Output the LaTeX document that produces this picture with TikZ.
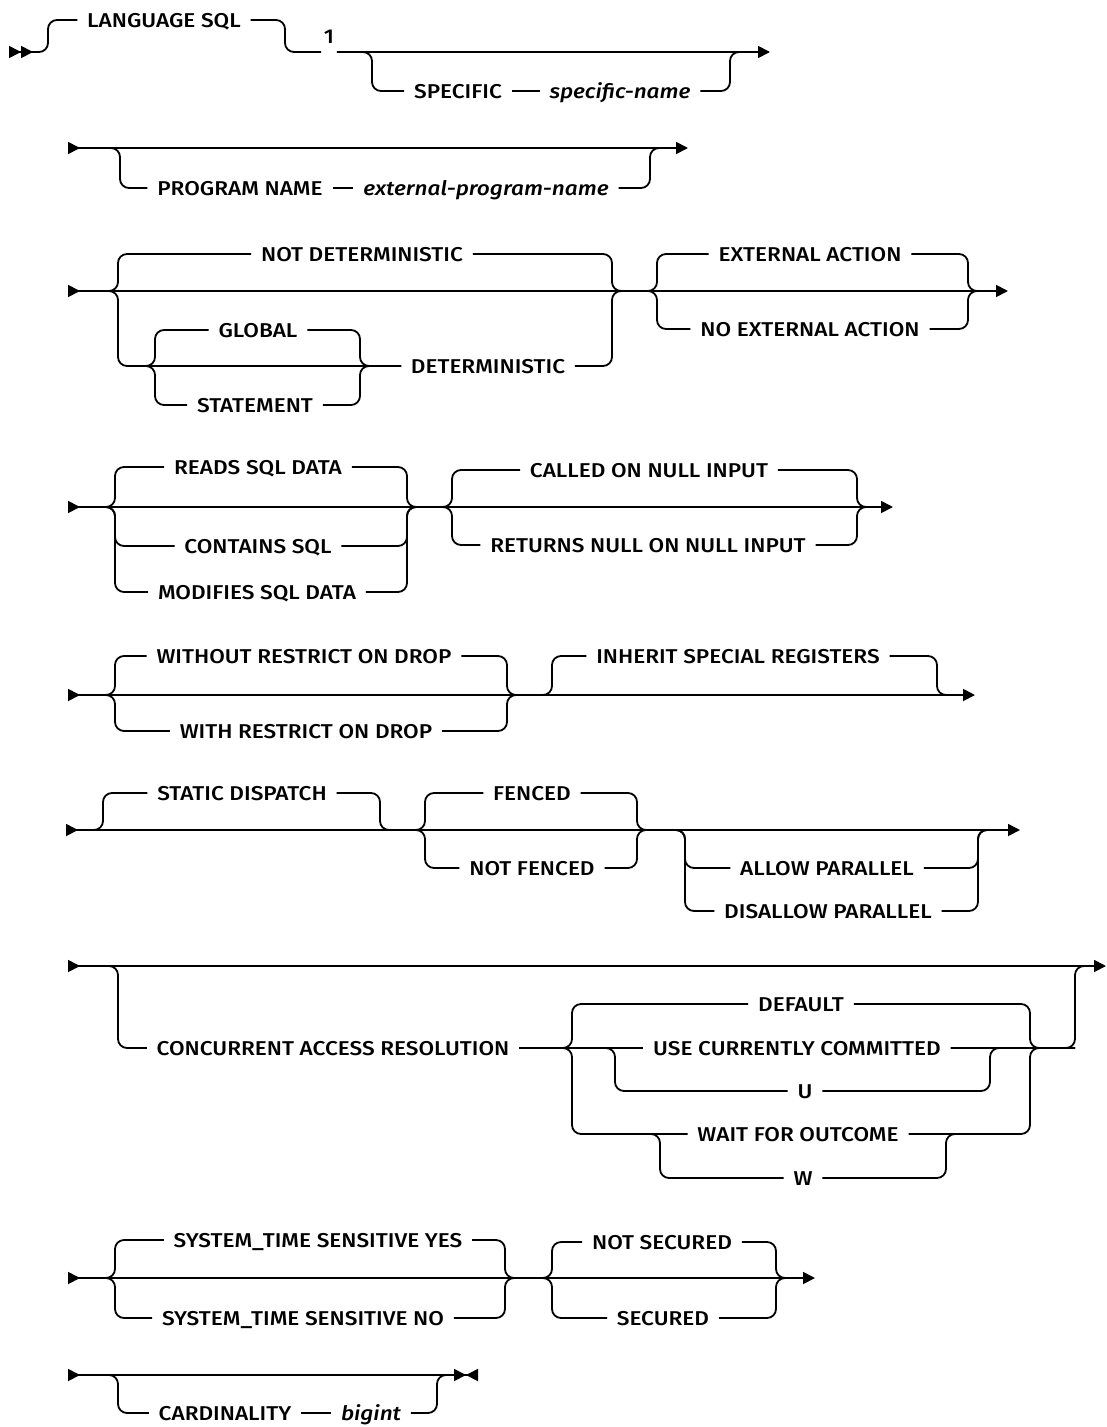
\documentclass[tikz,border=0pt]{standalone}
\usepackage{fontspec}
\setmainfont{Liberation Sans}
\newfontfamily\kwfam{Fira Sans Medium}[ItalicFont={Fira Sans Medium Italic}, FakeStretch=1.13]
\usetikzlibrary{arrows.meta}
\newcommand\kwfont{\kwfam\fontsize{20}{24}\selectfont}

\begin{document}
\begin{tikzpicture}[x=1pt, y=-1pt, line width=1.8pt,
  kw/.style={font=\kwfont, inner xsep=9pt, inner ysep=0pt, text height=14pt, text depth=0pt},
  var/.style={kw, font=\kwfont\itshape},
  rc/.style={rounded corners=9pt},
  mainline/.style={{Triangle[length=12pt,width=12pt,reversed]}-{Triangle[length=12pt,width=12pt]}},
  tail/.style={rc, shorten >=12pt}]

  \useasboundingbox (0,0) rectangle (1107,1427);

  % row 1
  \coordinate (b1) at (9,52);
  \coordinate (f1) at (48,52);
  \coordinate (j1) at (285,52);
  \coordinate (f1b) at (372,52);
  \coordinate (j1b) at (730,52);
  \coordinate (e1) at (770,52);
  \node[kw] (lang) at (164,20) {LANGUAGE SQL};
  \node[kw, inner xsep=2pt] (n1) at (329,36) {1};
  \node[kw] (spec) at (458,91) {SPECIFIC};
  \node[var] (specn) at (620,91) {specific-name};
  \draw[rc, {Triangle[length=12pt,width=12pt,reversed]Triangle[length=12pt,width=12pt,reversed]}-] (b1) -| (f1 |- lang) -- (lang.west);
  \draw[rc] (lang.east) -| (j1) -- (j1 -| n1.west);
  \draw[rc] (n1.east |- j1) -| (f1b |- spec) -- (spec.west);
  \draw (spec) -- (specn);
  \draw[tail] (specn.east) -| (j1b) -- (e1);
  \draw[-{Triangle[length=12pt,width=12pt]}] (n1.east |- j1) -- (e1);

  % row 2
  \coordinate (s2) at (68,148);
  \coordinate (f2) at (120,148);
  \coordinate (j2) at (650,148);
  \coordinate (e2) at (688,148);
  \node[kw] (prog) at (240,188) {PROGRAM NAME};
  \node[var] (progn) at (486,188) {external-program-name};
  \draw[rc] (s2) -| (f2 |- prog) -- (prog.west);
  \draw (prog) -- (progn);
  \draw[tail] (progn.east) -| (j2) -- (e2);
  \draw[mainline] (s2) -- (e2);

  % row 3
  \coordinate (s3) at (68,291);
  \coordinate (f3) at (118,291);
  \coordinate (f3a) at (136,366);
  \coordinate (f3b) at (155,366);
  \coordinate (j3b) at (360,366);
  \coordinate (j3) at (612,291);
  \coordinate (f3c) at (657,291);
  \coordinate (j3c) at (968,291);
  \coordinate (e3) at (1008,291);
  \node[kw] (notdet) at (362,254) {NOT DETERMINISTIC};
  \node[kw] (glob) at (258,330) {GLOBAL};
  \node[kw] (stmt) at (255,405) {STATEMENT};
  \node[kw] (det) at (488,366) {DETERMINISTIC};
  \node[kw] (ext) at (810,254) {EXTERNAL ACTION};
  \node[kw] (noext) at (810,329) {NO EXTERNAL ACTION};
  \draw[rc] (s3) -| (f3 |- notdet) -- (notdet.west);
  \draw[rc] (notdet.east) -| (j3) -- (f3c);
  \draw[rc] (s3) -| (f3 |- f3b) -- (det.west);
  \draw[rc] (f3a) -| (f3b |- glob) -- (glob.west);
  \draw[rc] (glob.east) -| (j3b) -- (det.west);
  \draw[rc] (f3a) -| (f3b |- stmt) -- (stmt.west);
  \draw[rc] (stmt.east) -| (j3b) -- (det.west);
  \draw[rc] (det.east) -| (j3) -- (f3c);
  \draw[rc] (j3) -| (f3c |- ext) -- (ext.west);
  \draw[tail] (ext.east) -| (j3c) -- (e3);
  \draw[rc] (j3) -| (f3c |- noext) -- (noext.west);
  \draw[tail] (noext.east) -| (j3c) -- (e3);
  \draw[mainline] (s3) -- (e3);

  % row 4
  \coordinate (s4) at (68,507);
  \coordinate (f4) at (115,507);
  \coordinate (j4) at (407,507);
  \coordinate (f4b) at (452,507);
  \coordinate (j4b) at (857,507);
  \coordinate (e4) at (893,507);
  \node[kw] (reads) at (258,467) {READS SQL DATA};
  \node[kw] (cont) at (258,546) {CONTAINS SQL};
  \node[kw] (mod) at (257,592) {MODIFIES SQL DATA};
  \node[kw] (called) at (649,470) {CALLED ON NULL INPUT};
  \node[kw] (retn) at (648,545) {RETURNS NULL ON NULL INPUT};
  \foreach \n in {reads,cont,mod}{
    \draw[rc] (s4) -| (f4 |- \n) -- (\n.west);
    \draw[rc] (\n.east) -| (j4) -- (f4b);
  }
  \foreach \n in {called,retn}{
    \draw[rc] (j4) -| (f4b |- \n) -- (\n.west);
    \draw[tail] (\n.east) -| (j4b) -- (e4);
  }
  \draw[mainline] (s4) -- (e4);

  % row 5
  \coordinate (s5) at (68,695);
  \coordinate (f5) at (115,695);
  \coordinate (j5) at (507,695);
  \coordinate (f5b) at (552,695);
  \coordinate (j5b) at (937,695);
  \coordinate (e5) at (975,695);
  \node[kw] (wout) at (304,656) {WITHOUT RESTRICT ON DROP};
  \node[kw] (with) at (306,731) {WITH RESTRICT ON DROP};
  \node[kw] (inh) at (738,656) {INHERIT SPECIAL REGISTERS};
  \foreach \n in {wout,with}{
    \draw[rc] (s5) -| (f5 |- \n) -- (\n.west);
    \draw[rc] (\n.east) -| (j5) -- (f5b);
  }
  \draw[rc] (j5) -| (f5b |- inh) -- (inh.west);
  \draw[tail] (inh.east) -| (j5b) -- (e5);
  \draw[mainline] (s5) -- (e5);

  % row 6
  \coordinate (s6) at (66,830);
  \coordinate (f6) at (103,830);
  \coordinate (j6) at (380,830);
  \coordinate (f6b) at (425,830);
  \coordinate (j6b) at (637,830);
  \coordinate (f6c) at (685,830);
  \coordinate (j6c) at (978,830);
  \coordinate (e6) at (1020,830);
  \node[kw] (stat) at (242,793) {STATIC DISPATCH};
  \node[kw] (fenc) at (532,793) {FENCED};
  \node[kw] (nfenc) at (532,868) {NOT FENCED};
  \node[kw] (allow) at (827,868) {ALLOW PARALLEL};
  \node[kw] (dis) at (828,911) {DISALLOW PARALLEL};
  \draw[rc] (s6) -| (f6 |- stat) -- (stat.west);
  \draw[rc] (stat.east) -| (j6) -- (f6b);
  \foreach \n in {fenc,nfenc}{
    \draw[rc] (j6) -| (f6b |- \n) -- (\n.west);
    \draw[rc] (\n.east) -| (j6b) -- (f6c);
  }
  \foreach \n in {allow,dis}{
    \draw[rc] (j6b) -| (f6c |- \n) -- (\n.west);
    \draw[tail] (\n.east) -| (j6c) -- (e6);
  }
  \draw[mainline] (s6) -- (e6);

  % row 7
  \coordinate (s7) at (68,966);
  \coordinate (f7) at (118,966);
  \coordinate (f7b) at (572,1048);
  \coordinate (f7c) at (615,1048);
  \coordinate (m7) at (630,1134);
  \coordinate (f7d) at (660,1134);
  \coordinate (j7d) at (946,1134);
  \coordinate (k7) at (1000,1134);
  \coordinate (j7c) at (990,1048);
  \coordinate (j7b) at (1030,1048);
  \coordinate (j7) at (1075,966);
  \coordinate (e7) at (1106,966);
  \node[kw] (car) at (333,1048) {CONCURRENT ACCESS RESOLUTION};
  \node[kw] (dflt) at (801,1004) {DEFAULT};
  \node[kw] (ucc) at (797,1048) {USE CURRENTLY COMMITTED};
  \node[kw] (u) at (805,1091) {U};
  \node[kw] (wait) at (798,1134) {WAIT FOR OUTCOME};
  \node[kw] (w) at (803,1178) {W};
  \draw[rc] (s7) -| (f7 |- car) -- (car.west);
  \draw (car) -- (ucc);
  \draw[rc] (car.east) -| (f7b |- dflt) -- (dflt.west);
  \draw[rc] (dflt.east) -| (j7b) -- (j7b -| j7);
  \draw[tail] (ucc.east) -| (j7) -- (e7);
  \draw[rc] (f7b) -| (f7c |- u) -- (u.west);
  \draw[rc] (u.east) -| (j7c) -- (j7b);
  \draw[rc] (car.east) -| (f7b |- wait) -- (wait.west);
  \draw[rc] (wait.east) -| (j7b) -- (j7b -| j7);
  \draw[rc] (m7) -| (f7d |- w) -- (w.west);
  \draw[rc] (w.east) -| (j7d) -- (k7);
  \draw[mainline] (s7) -- (e7);

  % row 8
  \coordinate (s8) at (68,1278);
  \coordinate (f8) at (115,1278);
  \coordinate (j8) at (505,1278);
  \coordinate (f8b) at (552,1278);
  \coordinate (j8b) at (776,1278);
  \coordinate (e8) at (815,1278);
  \node[kw] (yes) at (318,1240) {SYSTEM\_TIME SENSITIVE YES};
  \node[kw] (no) at (303,1318) {SYSTEM\_TIME SENSITIVE NO};
  \node[kw] (nsec) at (662,1242) {NOT SECURED};
  \node[kw] (sec) at (663,1318) {SECURED};
  \foreach \n in {yes,no}{
    \draw[rc] (s8) -| (f8 |- \n) -- (\n.west);
    \draw[rc] (\n.east) -| (j8) -- (f8b);
  }
  \foreach \n in {nsec,sec}{
    \draw[rc] (j8) -| (f8b |- \n) -- (\n.west);
    \draw[tail] (\n.east) -| (j8b) -- (e8);
  }
  \draw[mainline] (s8) -- (e8);

  % row 9
  \coordinate (s9) at (68,1375);
  \coordinate (f9) at (118,1375);
  \coordinate (j9) at (437,1375);
  \coordinate (e9) at (478,1375);
  \node[kw] (card) at (225,1413) {CARDINALITY};
  \node[var] (bigint) at (371,1413) {bigint};
  \draw[rc] (s9) -| (f9 |- card) -- (card.west);
  \draw (card) -- (bigint);
  \draw[rc, shorten >=24pt] (bigint.east) -| (j9) -- (e9);
  \draw[{Triangle[length=12pt,width=12pt,reversed]}-{Triangle[length=12pt,width=12pt]Triangle[length=12pt,width=12pt,reversed]}] (s9) -- (e9);
\end{tikzpicture}
\end{document}
